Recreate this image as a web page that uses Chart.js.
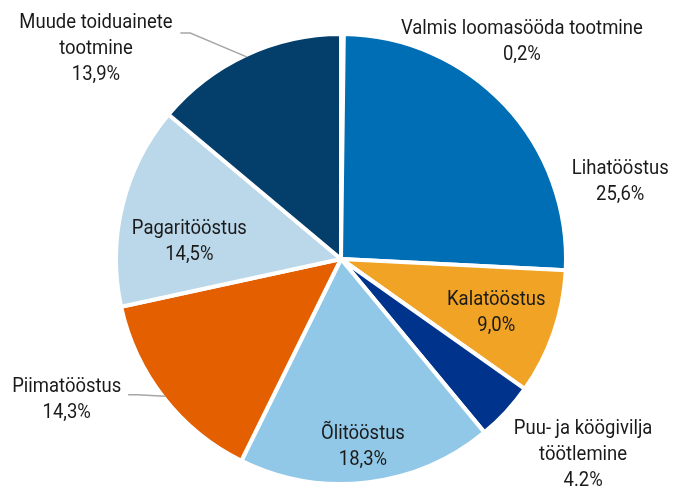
<!DOCTYPE html>
<html>
<head>
<meta charset="utf-8">
<script src="https://cdn.jsdelivr.net/npm/chart.js@4"></script>
<style>
  html, body { margin: 0; padding: 0; background: #fff; }
  canvas { display: block; }
</style>
</head>
<body>
<canvas id="pie-chart" width="683" height="486"></canvas>
<script>
const categories = [
    'Valmis loomasööda tootmine',
    'Lihatööstus',
    'Kalatööstus',
    'Puu- ja köögivilja\ntöötlemine',
    'Õlitööstus',
    'Piimatööstus',
    'Pagaritööstus',
    'Muude toiduainete\ntootmine'
];
const shares = [0.2, 25.6, 9.0, 4.2, 18.3, 14.3, 14.5, 13.9];
const decimalMarks = [',', ',', ',', '.', ',', ',', ',', ','];
const sliceColors = ['#a5a5a5', '#006eb4', '#f0a324', '#00338c', '#92c8e7', '#e45f00', '#bbd8ea', '#043f6c'];

// label anchors: r = along the slice's middle angle, dx/dy = offset from centre (in radii)
const labelPlacement = [
    { dx: 0.804, dy: -0.967 },
    { dx: 1.241, dy: -0.342 },
    { r: 0.73 },
    { dx: 1.076, dy: 0.871 },
    { r: 0.84 },
    { dx: -1.219, dy: 0.627 },
    { dx: -0.674, dy: -0.076 },
    { dx: -1.089, dy: -0.933 }
];
// leader lines: start and elbow points, ending on the slice's outer edge
const leaders = {
    5: [[-0.946, 0.603], [-0.906, 0.603]],
    7: [[-0.714, -1.004], [-0.670, -1.004]]
};

const sliceLabels = {
    id: 'sliceLabels',
    afterDatasetsDraw(chart) {
        const ctx = chart.ctx;
        const arcs = chart.getDatasetMeta(0).data;
        ctx.save();
        ctx.font = '21px Roboto';
        ctx.fillStyle = '#1a1a1a';
        ctx.textAlign = 'center';
        ctx.textBaseline = 'middle';
        arcs.forEach((arc, i) => {
            const p = arc.getProps(['x', 'y', 'startAngle', 'endAngle', 'outerRadius'], true);
            const R = p.outerRadius;
            const mid = (p.startAngle + p.endAngle) / 2;
            const place = labelPlacement[i];
            let lx, ly;
            if (place.r !== undefined) {
                lx = p.x + Math.cos(mid) * place.r * R;
                ly = p.y + Math.sin(mid) * place.r * R;
            } else {
                lx = p.x + place.dx * R;
                ly = p.y + place.dy * R;
            }

            if (leaders[i]) {
                const pts = leaders[i];
                ctx.beginPath();
                ctx.strokeStyle = '#a6a6a6';
                ctx.lineWidth = 1.5;
                ctx.moveTo(p.x + pts[0][0] * R, p.y + pts[0][1] * R);
                ctx.lineTo(p.x + pts[1][0] * R, p.y + pts[1][1] * R);
                ctx.lineTo(p.x + Math.cos(mid) * (R - 2), p.y + Math.sin(mid) * (R - 2));
                ctx.stroke();
            }

            const pct = shares[i].toFixed(1).replace('.', decimalMarks[i]) + '%';
            const lines = categories[i].split('\n').concat(pct);
            const lh = 26;
            const top = ly - (lines.length - 1) * lh / 2;
            lines.forEach((line, k) => {
                ctx.save();
                ctx.translate(lx, top + k * lh);
                ctx.scale(0.88, 1);
                ctx.fillText(line, 0, 0);
                ctx.restore();
            });
        });
        ctx.restore();
    }
};

new Chart(document.getElementById('pie-chart'), {
    type: 'pie',
    data: {
        labels: categories,
        datasets: [{
            data: shares,
            backgroundColor: sliceColors,
            borderColor: '#ffffff',
            borderWidth: 4
        }]
    },
    options: {
        responsive: false,
        animation: false,
        layout: {
            padding: { top: 32, bottom: 0, left: 114, right: 115 }
        },
        plugins: {
            legend: { display: false },
            tooltip: { enabled: false }
        }
    },
    plugins: [sliceLabels]
});
</script>
</body>
</html>
